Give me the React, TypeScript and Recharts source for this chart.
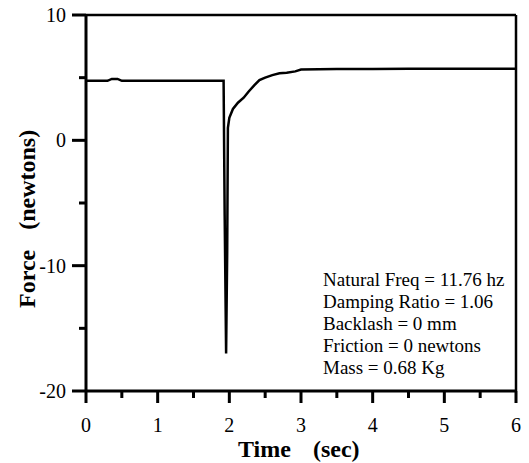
import React from "react";
import { LineChart, Line, XAxis, YAxis, ReferenceLine } from "recharts";

// time (sec) and force (newtons)
const times = [
  0, 0.3, 0.36, 0.44, 0.5, 1.0, 1.5, 1.92, 1.935, 1.955, 1.97, 1.98, 2.0, 2.05,
  2.12, 2.2, 2.27, 2.35, 2.42, 2.5, 2.6, 2.7, 2.8, 2.92, 3.0, 3.5, 4.0, 4.5, 5.0,
  5.5, 6.0,
];
const forces = [
  4.75, 4.75, 4.9, 4.9, 4.75, 4.75, 4.75, 4.75, -6, -17, -9, 1.0, 1.8, 2.5, 3.0,
  3.4, 3.9, 4.4, 4.8, 5.0, 5.2, 5.35, 5.4, 5.5, 5.65, 5.7, 5.7, 5.72, 5.72, 5.72,
  5.72,
];

const xTicks = [0, 0.5, 1, 1.5, 2, 2.5, 3, 3.5, 4, 4.5, 5, 5.5, 6];
const yTicks = [-20, -15, -10, -5, 0, 5, 10];

const notes = [
  "Natural Freq = 11.76 hz",
  "Damping Ratio = 1.06",
  "Backlash = 0 mm",
  "Friction = 0 newtons",
  "Mass = 0.68 Kg",
];

const data = times.map((t, i) => ({ t, f: forces[i] }));

const font = "'Liberation Serif', 'Times New Roman', serif";

// major ticks are longer and labelled, half-steps are short and bare
const renderXTick = (props: any) => {
  const { x, y, payload } = props;
  const major = Number.isInteger(payload.value);
  return (
    <g>
      <rect x={x - 1.5} y={y} width={3} height={major ? 12 : 7} fill="#000" />
      {major && (
        <text x={x} y={y + 34} textAnchor="middle" dominantBaseline="central" fontFamily={font} fontSize={20} fill="#000">
          {payload.value}
        </text>
      )}
    </g>
  );
};

const renderYTick = (props: any) => {
  const { x, y, payload } = props;
  const major = payload.value % 10 === 0;
  const len = major ? 14 : 7;
  return (
    <g>
      <rect x={x - len} y={y - 1.5} width={len} height={3} fill="#000" />
      {major && (
        <text x={x - 20} y={y} textAnchor="end" dominantBaseline="central" fontFamily={font} fontSize={20} fill="#000">
          {payload.value}
        </text>
      )}
    </g>
  );
};

export default function App() {
  return (
    <div style={{ position: "absolute", left: 0, top: 0, background: "#fff" }}>
      <LineChart
        width={529}
        height={463}
        data={data}
        margin={{ top: 15, right: 13, bottom: 12, left: 0 }}
      >
        <XAxis
          dataKey="t"
          type="number"
          domain={[0, 6]}
          ticks={xTicks}
          interval={0}
          height={60}
          tickSize={0}
          tickMargin={0}
          tickLine={false}
          axisLine={{ stroke: "#000", strokeWidth: 3 }}
          tick={renderXTick}
        />
        <YAxis
          type="number"
          domain={[-20, 10]}
          ticks={yTicks}
          interval={0}
          width={86}
          tickSize={0}
          tickMargin={0}
          tickLine={false}
          axisLine={{ stroke: "#000", strokeWidth: 3 }}
          tick={renderYTick}
        />
        <ReferenceLine y={10} stroke="#000" strokeWidth={2.5} />
        <ReferenceLine x={6} stroke="#000" strokeWidth={2.5} />
        <Line
          type="linear"
          dataKey="f"
          stroke="#000"
          strokeWidth={2.5}
          dot={false}
          isAnimationActive={false}
        />
        <text x={238} y={449} dominantBaseline="central" fontFamily={font} fontWeight="bold" fontSize={24}>
          <tspan>Time</tspan>
          <tspan dx={22}>(sec)</tspan>
        </text>
        <text transform="translate(27,308) rotate(-90)" dominantBaseline="central" fontFamily={font} fontWeight="bold" fontSize={24}>
          <tspan>Force</tspan>
          <tspan dx={20}>(newtons)</tspan>
        </text>
        {notes.map((n, i) => (
          <text key={n} x={323} y={286 + i * 22} fontFamily={font} fontSize={19} fill="#000">
            {n}
          </text>
        ))}
      </LineChart>
    </div>
  );
}
